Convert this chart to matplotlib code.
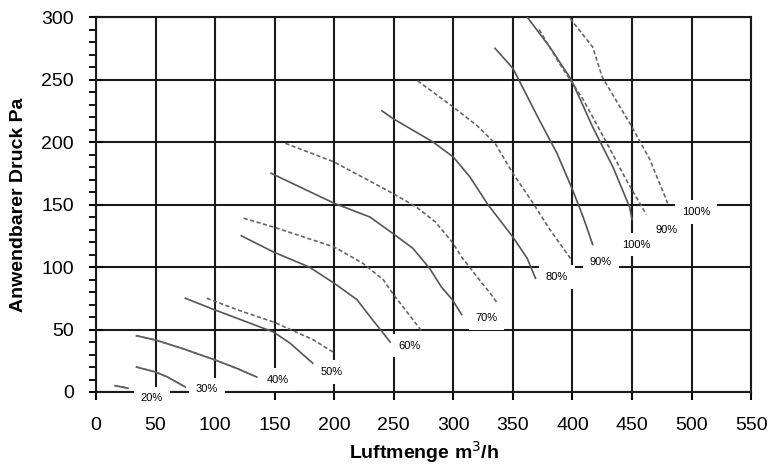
import matplotlib
matplotlib.use("Agg")
import matplotlib.pyplot as plt
from matplotlib.ticker import MultipleLocator

plt.rcParams["font.family"] = ["Liberation Sans", "DejaVu Sans"]

# Luftmenge m3/h (q..) and Druck Pa (p..) per Stufe, solid curves
q20 = [16, 22, 27]
p20 = [5, 4, 3]
q30 = [34, 50, 60, 75]
p30 = [20, 16, 12, 4]
q40 = [34, 50, 75, 100, 118, 135]
p40 = [45, 41.6, 34, 25.6, 19, 12]
q50 = [75, 100, 149, 163, 182]
p50 = [75, 65.6, 48, 39, 23]
q60 = [122, 149, 179, 200, 219, 232, 247]
p60 = [125, 112, 100, 87, 74, 58, 40]
q70 = [147, 200, 230, 249, 266, 280, 290, 299, 307]
p70 = [175, 151, 140, 127, 115, 99, 84, 74, 62]
q80 = [240, 249, 283, 300, 314, 329, 350, 362, 369]
p80 = [225, 219, 200, 188, 172, 150, 124, 107, 91]
q90 = [335, 350, 372, 387, 400, 409, 417]
p90 = [275, 259, 218, 191, 162, 140, 118]
q100 = [362, 381, 399, 417, 434, 448, 450]
p100 = [300, 276, 250, 212, 180, 148, 138]

# dashed curves
qd20 = [16, 22, 27]
pd20 = [5, 4, 3]
qd30 = [34, 50, 60, 75]
pd30 = [20, 16, 12, 4]
qd40 = [34, 50, 75, 100, 118, 135]
pd40 = [45, 41.6, 34, 25.6, 19, 12]
qd50 = [93, 121, 149, 182, 199]
pd50 = [75, 65, 56, 42, 32]
qd60 = [124, 149, 200, 224, 241, 249, 274]
pd60 = [139, 132, 116, 103, 90, 79, 48]
qd70 = [159, 200, 249, 269, 285, 299, 307, 320, 331, 337]
pd70 = [199, 184, 159, 148, 136, 120, 108, 92, 79, 71]
qd80 = [270, 300, 320, 335, 350, 367, 381, 399]
pd80 = [249, 228, 213, 199, 175, 151, 130, 106]
qd90 = [372, 389, 409, 429, 445, 462]
pd90 = [290, 263, 234, 199, 170, 142]
qd100 = [398, 417, 425, 450, 465, 480]
pd100 = [299, 276, 252, 212, 186, 151]

# curve labels
label_text = ["20%", "30%", "40%", "50%", "60%", "70%", "80%", "90%", "100%", "90%", "100%"]
label_q = [47, 93, 153, 198, 263, 328, 387, 424, 454, 479, 504]
label_p = [-5, 2, 10, 16, 37, 59, 92, 104, 118, 130, 144]

x_ticks = list(range(0, 551, 50))
y_ticks = list(range(0, 301, 50))

solid = [(q20, p20), (q30, p30), (q40, p40), (q50, p50), (q60, p60),
         (q70, p70), (q80, p80), (q90, p90), (q100, p100)]
dashed = [(qd20, pd20), (qd30, pd30), (qd40, pd40), (qd50, pd50), (qd60, pd60),
          (qd70, pd70), (qd80, pd80), (qd90, pd90), (qd100, pd100)]

fig = plt.figure(figsize=(7.68, 4.74), dpi=100)
ax = fig.add_axes([0.125, 0.173, 0.853, 0.791])

for q, p in solid:
    ax.plot(q, p, color="#555555", linewidth=1.2, zorder=3)
for q, p in dashed:
    ax.plot(q, p, color="#666666", linewidth=1.2, linestyle=(0, (2.5, 1.5)), zorder=3)

for txt, q, p in zip(label_text, label_q, label_p):
    ax.text(q, p, txt, fontsize=8, ha="center", va="center", zorder=5,
            bbox=dict(boxstyle="square,pad=0.6", facecolor="white", edgecolor="none"))

ax.set_xlim(0, 550)
ax.set_ylim(0, 300)
ax.set_xticks(x_ticks)
ax.set_yticks(y_ticks)
ax.yaxis.set_minor_locator(MultipleLocator(10))
ax.set_axisbelow(True)
ax.grid(True, color="#1a1a1a", linewidth=1.5)

for s in ax.spines.values():
    s.set_color("#1a1a1a")
    s.set_linewidth(1.5)

ax.tick_params(axis="x", direction="out", length=6, width=1.5, pad=12, labelsize=14)
ax.tick_params(axis="y", which="major", direction="inout", length=10, width=1.5,
               pad=11, labelsize=14)
ax.tick_params(axis="y", which="minor", direction="out", length=5, width=1.3)

ax.set_xlabel("Luftmenge m$^3$/h", fontsize=14, fontweight="bold", labelpad=4)
ax.set_ylabel("Anwendbarer Druck Pa", fontsize=14, fontweight="bold", labelpad=10)

fig.savefig("out.png", dpi=100)
